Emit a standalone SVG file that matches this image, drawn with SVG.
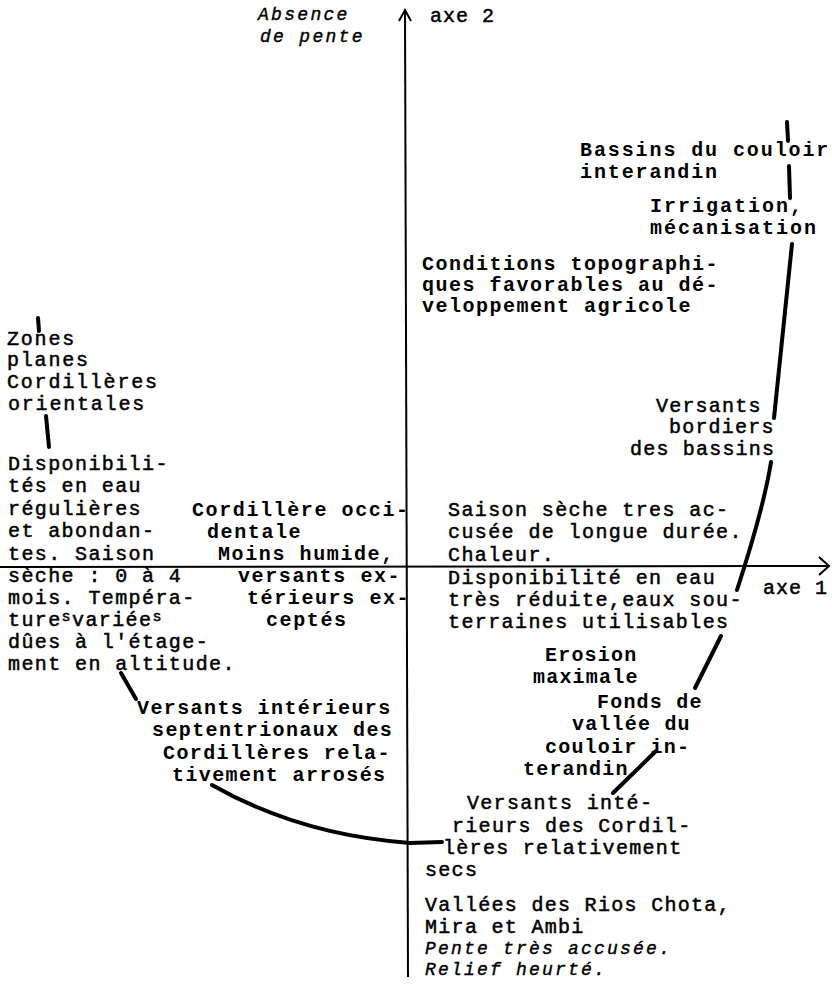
<svg xmlns="http://www.w3.org/2000/svg" width="832" height="987" viewBox="0 0 832 987">
  <style>
    text { font-family: "Liberation Mono", "Courier New", monospace; font-size: 20px; fill: #000; }
    .rg { stroke: #000; stroke-width: 0.5; }
    .bd { font-weight: bold; }
    .it { font-style: italic; font-size: 18px; stroke: #000; stroke-width: 0.4; }
    .axis { stroke: #000; stroke-width: 2; fill: none; }
    .pen { stroke: #000; stroke-width: 4; fill: none; stroke-linecap: round; }
    .sup { font-size: 15px; }
  </style>
  <rect width="832" height="987" fill="#fff"/>

  <!-- axes -->
  <g id="axes">
    <line class="axis" x1="405" y1="11" x2="408" y2="977"/>
    <polyline class="axis" points="399,21 405,10 411,21"/>
    <line class="axis" x1="0" y1="567" x2="829" y2="566"/>
    <polyline class="axis" points="819,557 829,566 819,575"/>
    <text class="rg" x="430" y="22" letter-spacing="1">axe 2</text>
    <text class="rg" x="763" y="594" letter-spacing="1">axe 1</text>
    <text class="it" x="258" y="20" letter-spacing="2.3">Absence</text>
    <text class="it" x="260" y="42" letter-spacing="2.3">de pente</text>
  </g>

  <!-- connecting pen strokes -->
  <g id="connectors">
    <path class="pen" d="M787,122 L788,141"/>
    <path class="pen" d="M789,166 L790,198"/>
    <path class="pen" d="M792,244 L774,418"/>
    <path class="pen" d="M771,462 C765,500 750,550 737,590"/>
    <path class="pen" d="M721,636 L695,688"/>
    <path class="pen" d="M656,751 L613,793"/>
    <path class="pen" d="M38,318 L39,331"/>
    <path class="pen" d="M46,416 L49,447"/>
    <path class="pen" stroke-width="5" d="M121,673 L136,699"/>
    <path class="pen" d="M212,785 Q300,835 410,843 L442,842"/>
  </g>

  <g id="bassins">
    <text class="bd" x="580" y="156" letter-spacing="1.9">Bassins du couloir</text>
    <text class="bd" x="580" y="178" letter-spacing="1.9">interandin</text>
  </g>

  <g id="irrigation">
    <text class="bd" x="650" y="212" letter-spacing="2">Irrigation,</text>
    <text class="bd" x="650" y="234" letter-spacing="2">mécanisation</text>
  </g>

  <g id="conditions">
    <text class="bd" x="422" y="270" letter-spacing="1.5">Conditions topographi-</text>
    <text class="bd" x="422" y="291" letter-spacing="1.5">ques favorables au dé-</text>
    <text class="bd" x="422" y="312" letter-spacing="1.5">veloppement agricole</text>
  </g>

  <g id="zones-planes">
    <text class="rg" x="7" y="345" letter-spacing="1.8">Zones</text>
    <text class="rg" x="7" y="366" letter-spacing="1.8">planes</text>
    <text class="rg" x="7" y="388" letter-spacing="1.8">Cordillères</text>
    <text class="rg" x="8" y="410" letter-spacing="1.8">orientales</text>
  </g>

  <g id="versants-bordiers">
    <text class="rg" x="656" y="412" letter-spacing="1.2">Versants</text>
    <text class="rg" x="669" y="433" letter-spacing="1.2">bordiers</text>
    <text class="rg" x="630" y="455" letter-spacing="1.2">des bassins</text>
  </g>

  <g id="disponibilites">
    <text class="rg" x="8" y="470" letter-spacing="1.4">Disponibili-</text>
    <text class="rg" x="8" y="492" letter-spacing="1.4">tés en eau</text>
    <text class="rg" x="8" y="515" letter-spacing="1.4">régulières</text>
    <text class="rg" x="8" y="537" letter-spacing="1.4">et abondan-</text>
    <text class="rg" x="8" y="560" letter-spacing="1.4">tes. Saison</text>
    <text class="rg" x="8" y="582" letter-spacing="1.4">sèche : 0 à 4</text>
    <text class="rg" x="8" y="604" letter-spacing="1.4">mois. Tempéra-</text>
    <text class="rg" x="8" y="626" letter-spacing="1.4">ture<tspan class="sup" dy="-5">s</tspan><tspan dy="5">variée</tspan><tspan class="sup" dy="-5">s</tspan></text>
    <text class="rg" x="8" y="648" letter-spacing="1.4">dûes à l'étage-</text>
    <text class="rg" x="8" y="670" letter-spacing="1.4">ment en altitude.</text>
  </g>

  <g id="cordillere-occidentale">
    <text class="bd" x="192" y="516" letter-spacing="1.6">Cordillère occi-</text>
    <text class="bd" x="207" y="538" letter-spacing="1.6">dentale</text>
    <text class="bd" x="218" y="560" letter-spacing="1.6">Moins humide,</text>
    <text class="bd" x="238" y="582" letter-spacing="1.6">versants ex-</text>
    <text class="bd" x="247" y="604" letter-spacing="1.6">térieurs ex-</text>
    <text class="bd" x="266" y="626" letter-spacing="1.6">ceptés</text>
  </g>

  <g id="saison-seche">
    <text class="rg" x="448" y="516" letter-spacing="1.4">Saison sèche tres ac-</text>
    <text class="rg" x="448" y="538" letter-spacing="1.4">cusée de longue durée.</text>
    <text class="rg" x="448" y="561" letter-spacing="1.4">Chaleur.</text>
    <text class="rg" x="448" y="584" letter-spacing="1.4">Disponibilité en eau</text>
    <text class="rg" x="448" y="606" letter-spacing="1.4">très réduite,eaux sou-</text>
    <text class="rg" x="448" y="628" letter-spacing="1.4">terraines utilisables</text>
  </g>

  <g id="erosion">
    <text class="bd" x="545" y="661" letter-spacing="1.2">Erosion</text>
    <text class="bd" x="533" y="683" letter-spacing="1.2">maximale</text>
  </g>

  <g id="fonds-de-vallee">
    <text class="bd" x="597" y="708" letter-spacing="1.2">Fonds de</text>
    <text class="bd" x="572" y="730" letter-spacing="1.2">vallée du</text>
    <text class="bd" x="545" y="753" letter-spacing="1.2">couloir in-</text>
    <text class="bd" x="523" y="775" letter-spacing="1.2">terandin</text>
  </g>

  <g id="versants-septentrionaux">
    <text class="bd" x="137" y="714" letter-spacing="1.4">Versants intérieurs</text>
    <text class="bd" x="152" y="736" letter-spacing="1.4">septentrionaux des</text>
    <text class="bd" x="163" y="759" letter-spacing="1.4">Cordillères rela-</text>
    <text class="bd" x="172" y="781" letter-spacing="1.4">tivement arrosés</text>
  </g>

  <g id="versants-secs">
    <text class="rg" x="467" y="809" letter-spacing="1.3">Versants inté-</text>
    <text class="rg" x="452" y="832" letter-spacing="1.3">rieurs des Cordil-</text>
    <text class="rg" x="443" y="854" letter-spacing="1.3">lères relativement</text>
    <text class="rg" x="425" y="876" letter-spacing="1.3">secs</text>
  </g>

  <g id="vallees-chota">
    <text class="rg" x="425" y="911" letter-spacing="1.3">Vallées des Rios Chota,</text>
    <text class="rg" x="425" y="933" letter-spacing="1.3">Mira et Ambi</text>
    <text class="it" x="425" y="954" letter-spacing="2.2">Pente très accusée.</text>
    <text class="it" x="425" y="975" letter-spacing="2.2">Relief heurté.</text>
  </g>
</svg>
